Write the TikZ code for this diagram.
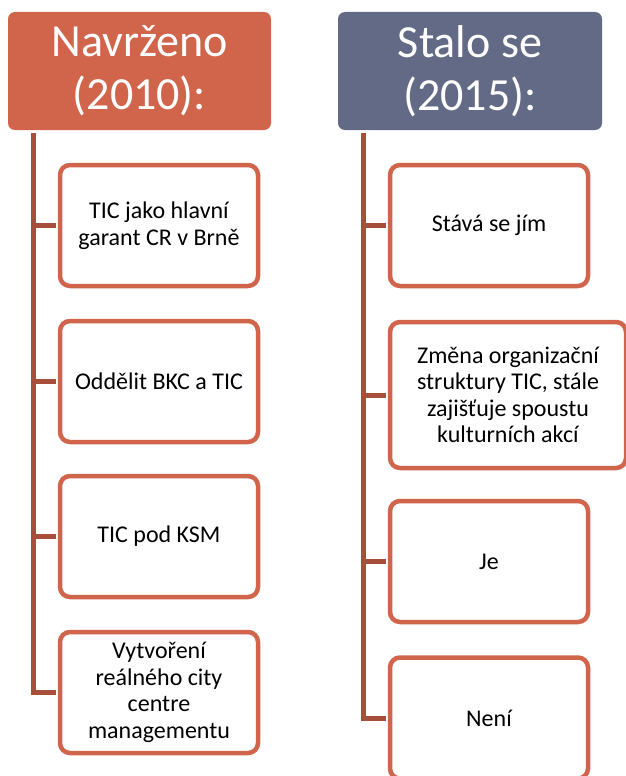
\documentclass[tikz,border=0pt]{standalone}
\usepackage{fontspec}
\setmainfont{Carlito}
\usepackage{tikz}
\usepackage{color}

\definecolor{cihla}{RGB}{209,101,76}
\definecolor{sediva}{RGB}{99,106,133}
\definecolor{kmenbarva}{RGB}{168,79,60}

\begin{document}
\begin{tikzpicture}[x=1pt,y=-1pt,
    hlava/.style={rounded corners=7pt, minimum width=263pt, minimum height=118pt, text=white, align=center, inner sep=0pt, font=\fontsize{46}{53}\selectfont},
    krabice/.style={draw=cihla, line width=4.5pt, rounded corners=10pt, fill=white, minimum width=198pt, minimum height=121pt, align=center, inner sep=2pt, font=\fontsize{24}{26.5}\selectfont},
    vetev/.style={draw=kmenbarva, line width=5pt, shorten >=2pt}]
    \useasboundingbox (0,0) rectangle (625,776);

    % Navrzeno (2010)
    \node[hlava, fill=cihla] (hL) at (139.5,71) {Navrženo\\(2010):};
    \node[krabice] (l1) at (159,225.5) {TIC jako hlavní\\garant CR v Brně};
    \node[krabice] (l2) at (159,381.5) {Oddělit BKC a TIC};
    \node[krabice] (l3) at (159,536.5) {TIC pod KSM};
    \node[krabice] (l4) at (159,692.5) {Vytvoření\\reálného city\\centre\\managementu};
    \coordinate (kL) at (33,133);
    \draw[vetev] (kL) |- (l4.west);
    \draw[vetev] (kL |- l1.west) -- (l1.west);
    \draw[vetev] (kL |- l2.west) -- (l2.west);
    \draw[vetev] (kL |- l3.west) -- (l3.west);

    % Stalo se (2015)
    \node[hlava, fill=sediva, minimum width=264pt] (hR) at (470,71) {Stalo se\\(2015):};
    \node[krabice] (r1) at (489,225.5) {Stává se jím};
    \node[krabice, minimum width=236pt, minimum height=146pt] (r2) at (508,395) {Změna organizační\\struktury TIC, stále\\zajišťuje spoustu\\kulturních akcí};
    \node[krabice] (r3) at (489,561.5) {Je};
    \node[krabice] (r4) at (489,718) {Není};
    \coordinate (kR) at (363,133);
    \draw[vetev] (kR) |- (r4.west);
    \draw[vetev] (kR |- r1.west) -- (r1.west);
    \draw[vetev] (kR |- r2.west) -- (r2.west);
    \draw[vetev] (kR |- r3.west) -- (r3.west);
\end{tikzpicture}
\end{document}
